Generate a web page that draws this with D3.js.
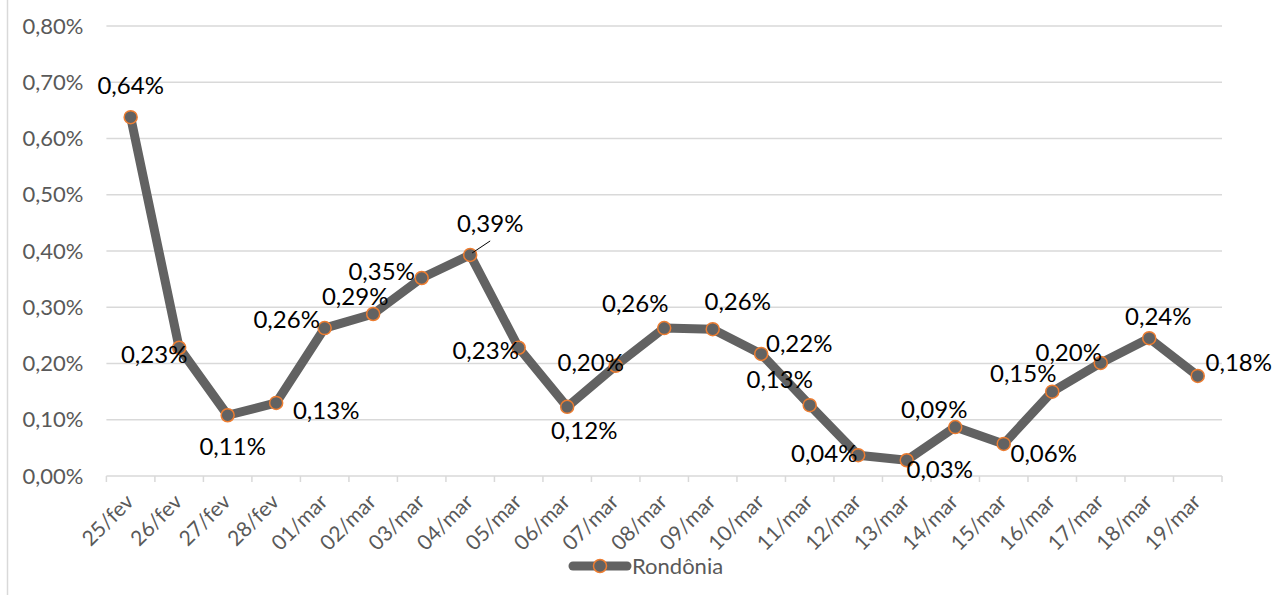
<html>
<head>
<meta charset="utf-8">
<title>Rondônia</title>
<script src="https://d3js.org/d3.v7.min.js"></script>
<style>
  body { margin: 0; background: #fff; }
  text { font-family: Lato, "Open Sans", sans-serif; }
</style>
</head>
<body>
<div id="chart"></div>
<script>

// data
var days = ["25/fev","26/fev","27/fev","28/fev","01/mar","02/mar","03/mar","04/mar","05/mar","06/mar","07/mar",
            "08/mar","09/mar","10/mar","11/mar","12/mar","13/mar","14/mar","15/mar","16/mar","17/mar","18/mar","19/mar"];
var rondonia = [0.638, 0.228, 0.108, 0.130, 0.263, 0.288, 0.352, 0.393, 0.228, 0.123, 0.196,
                0.263, 0.261, 0.217, 0.126, 0.037, 0.028, 0.087, 0.057, 0.150, 0.201, 0.245, 0.178];
var yTicks = [0, 0.1, 0.2, 0.3, 0.4, 0.5, 0.6, 0.7, 0.8];
var seriesName = "Rondônia";

// where each data label sits relative to its point (label centre offset, px)
var labelNudge = [[0,-33],[-25,6],[5,30],[50,7],[-38,-10],[-18,-19],[-40,-8],[20,-32],[-33,2],[17,23],[-25,-4],
                  [-29,-26],[25,-29],[38,-11],[-30,-27],[-34,-3],[33,8],[-21,-19],[40,9],[-29,-19],[-32,-11],[9,-23],[41,-14]];

var W = 1275, H = 599;
var m = {left: 106.4, right: 1222, top: 26, bottom: 476};

var fmt = function(v) { return v.toFixed(2).replace(".", ",") + "%"; };

var svg = d3.select("#chart").append("svg")
    .attr("width", W)
    .attr("height", H);

// chart frame (only left edge visible in the original)
svg.append("line")
    .attr("x1", 7.5).attr("x2", 7.5)
    .attr("y1", 0).attr("y2", 595)
    .attr("stroke", "#d9d9d9")
    .attr("stroke-width", 1.5);

var x = d3.scalePoint()
    .domain(days)
    .range([m.left, m.right])
    .padding(0.5);

var y = d3.scaleLinear()
    .domain([0, 0.8])
    .range([m.bottom, m.top]);

// gridlines
svg.append("g")
    .selectAll("line")
    .data(yTicks.filter(function(d) { return d > 0; }))
    .enter().append("line")
    .attr("x1", m.left).attr("x2", m.right)
    .attr("y1", function(d) { return y(d); })
    .attr("y2", function(d) { return y(d); })
    .attr("stroke", "#d9d9d9")
    .attr("stroke-width", 1.3);

// y axis labels
var yAxis = svg.append("g")
    .attr("transform", "translate(" + m.left + ",0)")
    .call(d3.axisLeft(y).tickValues(yTicks).tickFormat(fmt).tickSize(0).tickPadding(23));
yAxis.select(".domain").remove();
yAxis.selectAll("text")
    .attr("fill", "#595959")
    .style("font-size", "22px");

// x axis with band-edge ticks
var step = x.step();
var edges = d3.range(days.length + 1).map(function(i) { return m.left + i * step; });
var xg = svg.append("g");
xg.append("line")
    .attr("x1", m.left).attr("x2", m.right)
    .attr("y1", m.bottom).attr("y2", m.bottom)
    .attr("stroke", "#d9d9d9")
    .attr("stroke-width", 1.5);
xg.selectAll(".edge")
    .data(edges)
    .enter().append("line")
    .attr("class", "edge")
    .attr("x1", function(d) { return d; })
    .attr("x2", function(d) { return d; })
    .attr("y1", m.bottom).attr("y2", m.bottom + 6)
    .attr("stroke", "#d9d9d9")
    .attr("stroke-width", 1.5);
xg.selectAll(".lbl")
    .data(days)
    .enter().append("text")
    .attr("class", "lbl")
    .attr("transform", function(d) { return "translate(" + (x(d) - 1) + "," + (m.bottom + 22) + ") rotate(-45)"; })
    .attr("text-anchor", "end")
    .attr("dy", "0.35em")
    .attr("fill", "#595959")
    .style("font-size", "21px")
    .text(function(d) { return d; });

// line
var pts = days.map(function(d, i) { return { day: d, v: rondonia[i], i: i }; });
var line = d3.line()
    .x(function(d) { return x(d.day); })
    .y(function(d) { return y(d.v); });

svg.append("path")
    .datum(pts)
    .attr("d", line)
    .attr("fill", "none")
    .attr("stroke", "#626262")
    .attr("stroke-width", 9)
    .attr("stroke-linejoin", "round");

svg.selectAll(".dot")
    .data(pts)
    .enter().append("circle")
    .attr("class", "dot")
    .attr("cx", function(d) { return x(d.day); })
    .attr("cy", function(d) { return y(d.v); })
    .attr("r", 6.5)
    .attr("fill", "#626262")
    .attr("stroke", "#ed7d31")
    .attr("stroke-width", 1.5);

// leader line for 04/mar label
var i4 = days.indexOf("04/mar");
svg.append("line")
    .attr("x1", x(days[i4]) + 2).attr("y1", y(rondonia[i4]) - 2)
    .attr("x2", x(days[i4]) + 20).attr("y2", y(rondonia[i4]) - 14)
    .attr("stroke", "#000")
    .attr("stroke-width", 1);

// data labels
svg.selectAll(".val")
    .data(pts)
    .enter().append("text")
    .attr("class", "val")
    .attr("x", function(d) { return x(d.day) + labelNudge[d.i][0]; })
    .attr("y", function(d) { return y(d.v) + labelNudge[d.i][1]; })
    .attr("text-anchor", "middle")
    .attr("dominant-baseline", "central")
    .attr("fill", "#000")
    .style("font-size", "24px")
    .text(function(d) { return fmt(d.v); });

// legend
var lg = svg.append("g").attr("transform", "translate(600,566)");
lg.append("line")
    .attr("x1", -27).attr("x2", 27)
    .attr("stroke", "#626262")
    .attr("stroke-width", 9)
    .attr("stroke-linecap", "round");
lg.append("circle")
    .attr("r", 6.5)
    .attr("fill", "#626262")
    .attr("stroke", "#ed7d31")
    .attr("stroke-width", 1.5);
lg.append("text")
    .attr("x", 32)
    .attr("dy", "0.35em")
    .attr("fill", "#595959")
    .style("font-size", "22px")
    .text(seriesName);

</script>
</body>
</html>
